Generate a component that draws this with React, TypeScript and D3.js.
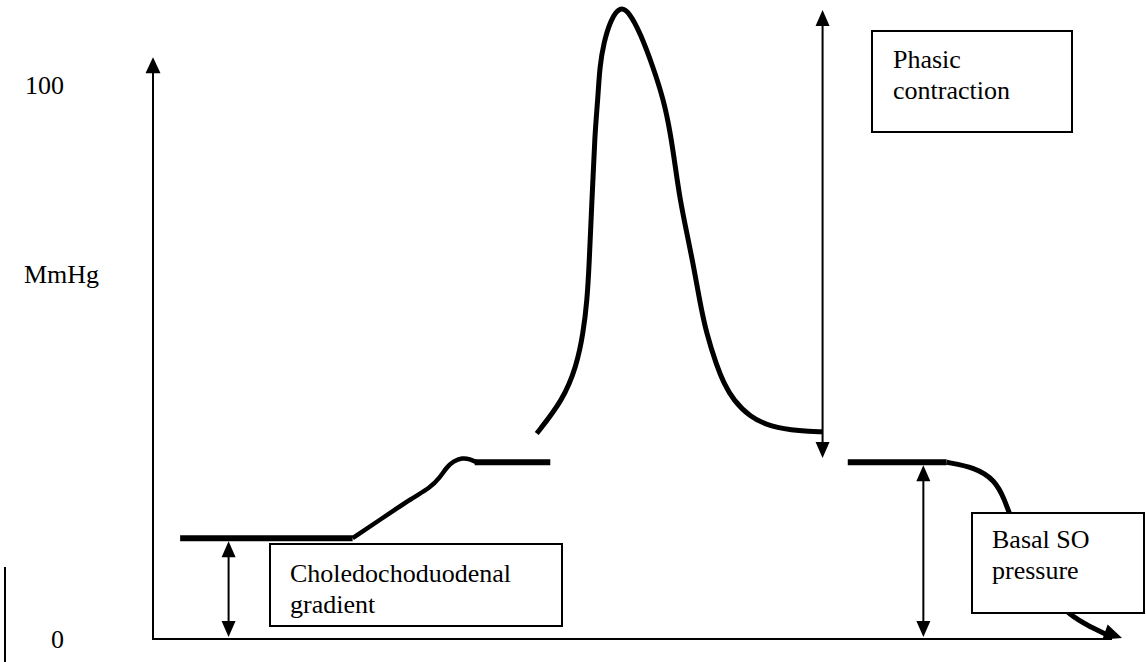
import React from 'react';
import * as d3 from 'd3';

const WIDTH = 1146;
const HEIGHT = 662;

// pressure axis (mmHg) and time axis (arbitrary units)
const pressureTicks = [0, 100];
const pressureLabel = 'MmHg';
const timeDomain = [0, 100];
const pressureDomain = [0, 100];
const yAxisTop = 105; // mmHg, arrow tip of the pressure axis

// trace pieces, [time, mmHg]
const baselineFlat: [number, number][] = [[2.8, 18.2], [20.6, 18.2]];
const riseCurve: [number, number][] = [
  [20.6, 18.2], [23.4, 21.5], [26.8, 25.5], [28.6, 27.3], [29.6, 29.1],
  [30.3, 31.0], [31.0, 32.1], [31.9, 32.7], [32.7, 32.5], [33.4, 31.9],
];
const plateauFlat: [number, number][] = [[33.2, 31.9], [41.0, 31.9]];
const phasicPeak: [number, number][] = [
  [39.6, 37.1], [42.3, 43.1], [43.7, 49.2], [44.4, 55.2], [44.8, 61.2],
  [45.0, 67.2], [45.3, 79.2], [45.6, 91.3], [45.9, 97.3], [46.1, 103.3],
  [46.5, 107.5], [47.2, 111.7], [48.2, 114.3], [49.2, 113.0], [50.3, 109.3],
  [51.6, 103.3], [52.7, 97.3], [53.4, 91.3], [53.9, 85.3], [54.4, 79.2],
  [55.1, 73.2], [55.8, 67.2], [56.4, 61.2], [57.1, 55.2], [58.2, 49.2],
  [58.9, 46.2], [59.9, 43.1], [61.6, 40.1], [63.7, 38.3], [66.8, 37.5],
  [69.1, 37.4],
];
const basalFlat: [number, number][] = [[71.7, 31.9], [81.9, 31.9]];
const decayCurve: [number, number][] = [
  [81.9, 31.9], [84.8, 31.0], [86.9, 28.7], [87.9, 25.1], [88.4, 22.4],
  [90.5, 14.3], [92.6, 7.9], [94.6, 4.3], [96.7, 2.2], [98.8, 0.5],
];

// double-headed measurement arrows: [time, top mmHg, bottom mmHg]
const measureArrows: [number, number, number][] = [
  [7.8, 18.2, 0],
  [79.5, 31.9, 0],
  [69.1, 114.1, 32.3],
];

// annotation boxes
const boxLines = [
  ['Choledochoduodenal', 'gradient'],
  ['Phasic', 'contraction'],
  ['Basal SO', 'pressure'],
];

const FONT = '"Liberation Serif", "Times New Roman", serif';

const x = d3.scaleLinear().domain(timeDomain).range([153, 1122]);
const y = d3.scaleLinear().domain(pressureDomain).range([639, 85]);

const smooth = d3
  .line<[number, number]>()
  .x((d) => x(d[0]))
  .y((d) => y(d[1]))
  .curve(d3.curveBasis);

const straight = d3
  .line<[number, number]>()
  .x((d) => x(d[0]))
  .y((d) => y(d[1]));

// filled triangle with tip at (px, py)
function head(px: number, py: number, dir: string, w = 15, h = 16) {
  if (dir === 'up') return `M${px},${py}L${px - w / 2},${py + h}L${px + w / 2},${py + h}Z`;
  return `M${px},${py}L${px - w / 2},${py - h}L${px + w / 2},${py - h}Z`;
}

// box layout in pixels
const boxLayout = [
  { x: 270, y: 544, w: 292, h: 82, tx: 290, ty: 582 },
  { x: 872, y: 31, w: 200, h: 101, tx: 893, ty: 68 },
  { x: 972, y: 513, w: 172, h: 100, tx: 992, ty: 548 },
];

export default function App() {
  const x0 = x(0);
  const y0 = y(0);
  const lineH = 31;

  // arrow at the end of the decay trace
  const tipX = x(timeDomain[1]);
  const tipY = y0 - 1;
  const prev = decayCurve[decayCurve.length - 2];
  const a = Math.atan2(tipY - y(prev[1]), tipX - x(prev[0]));
  const bx = tipX - 18 * Math.cos(a);
  const by = tipY - 18 * Math.sin(a);
  const endHead = `M${tipX},${tipY}L${bx - 8 * Math.sin(a)},${by + 8 * Math.cos(a)}L${bx + 8 * Math.sin(a)},${by - 8 * Math.cos(a)}Z`;

  return (
    <svg
      width={WIDTH}
      height={HEIGHT}
      style={{ position: 'absolute', left: 0, top: 0, background: '#fff' }}
      fontFamily={FONT}
    >
      <rect width={WIDTH} height={HEIGHT} fill="#fff" />

      {/* stray bar at left edge */}
      <line x1={5} x2={5} y1={567} y2={HEIGHT} stroke="#000" strokeWidth={2} />

      {/* axes */}
      <line x1={x0} x2={x0} y1={y0 + 1} y2={y(yAxisTop) + 12} stroke="#000" strokeWidth={2} />
      <path d={head(x0, y(yAxisTop), 'up', 15, 16)} fill="#000" />
      <line x1={x0 - 1} x2={tipX - 10} y1={y0} y2={y0} stroke="#000" strokeWidth={2} />

      {/* pressure labels */}
      {pressureTicks.map((v) => (
        <text key={v} x={64} y={y(v)} dy="0.35em" fontSize={26} textAnchor="end">
          {v}
        </text>
      ))}
      <text x={24} y={283} fontSize={26}>
        {pressureLabel}
      </text>

      {/* trace */}
      <g fill="none" stroke="#000" strokeLinecap="butt" strokeLinejoin="round">
        <path d={straight(baselineFlat) || ''} strokeWidth={6} />
        <path d={smooth(riseCurve) || ''} strokeWidth={4.5} />
        <path d={straight(plateauFlat) || ''} strokeWidth={6} />
        <path d={smooth(phasicPeak) || ''} strokeWidth={5} />
        <path d={straight(basalFlat) || ''} strokeWidth={6} />
        <path d={smooth(decayCurve) || ''} strokeWidth={5} />
      </g>
      <path d={endHead} fill="#000" />

      {/* measurement arrows */}
      {measureArrows.map(([t, top, bottom], i) => {
        const px = x(t);
        const yt = y(top) + 3;
        const yb = y(bottom) - 2;
        return (
          <g key={i}>
            <line x1={px} x2={px} y1={yt + 10} y2={yb - 10} stroke="#000" strokeWidth={2} />
            <path d={head(px, yt, 'up', 14, 16)} fill="#000" />
            <path d={head(px, yb, 'down', 14, 16)} fill="#000" />
          </g>
        );
      })}

      {/* annotation boxes */}
      {boxLayout.map((b, i) => (
        <g key={i}>
          <rect x={b.x} y={b.y} width={b.w} height={b.h} fill="#fff" stroke="#000" strokeWidth={2} />
          {boxLines[i].map((s, j) => (
            <text key={j} x={b.tx} y={b.ty + j * lineH} fontSize={26}>
              {s}
            </text>
          ))}
        </g>
      ))}
    </svg>
  );
}
